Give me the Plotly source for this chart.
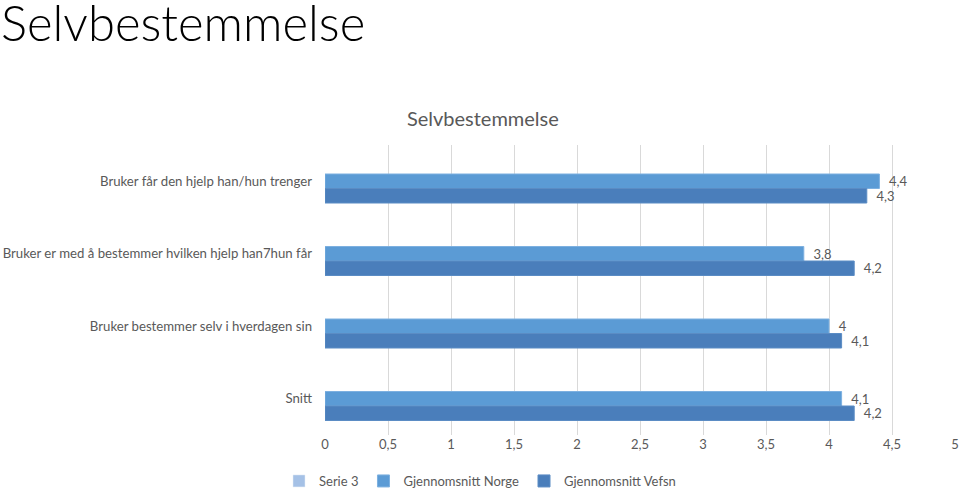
import plotly.graph_objects as go

categories = [
    "Bruker får den hjelp han/hun trenger",
    "Bruker er med å bestemmer hvilken hjelp han7hun får",
    "Bruker bestemmer selv i hverdagen sin",
    "Snitt",
]
serie3 = [None, None, None, None]
norge = [4.4, 3.8, 4.0, 4.1]
vefsn = [4.3, 4.2, 4.1, 4.2]
tick_vals = [0, 0.5, 1, 1.5, 2, 2.5, 3, 3.5, 4, 4.5, 5]
tick_text = ["0", "0,5", "1", "1,5", "2", "2,5", "3", "3,5", "4", "4,5", "5"]


def fmt(v):
    return "\u00a0\u00a0" + ("%g" % v).replace(".", ",")


FONT = "Lato"
GREY = "#595959"

fig = go.Figure()
fig.add_trace(go.Bar(
    y=categories, x=serie3, orientation="h", name="Serie 3",
    marker=dict(color="#A5C1E6"), showlegend=True,
))
fig.add_trace(go.Bar(
    y=categories, x=norge, orientation="h", name="Gjennomsnitt Norge",
    marker=dict(color="#5B9BD5", line=dict(color="#7DB0E0", width=1)),
    text=[fmt(v) for v in norge], textposition="outside", constraintext="none",
    textfont=dict(family=FONT, size=13, color=GREY), cliponaxis=False,
))
fig.add_trace(go.Bar(
    y=categories, x=vefsn, orientation="h", name="Gjennomsnitt Vefsn",
    marker=dict(color="#4A7EBB", line=dict(color="#5B8CC4", width=1)),
    text=[fmt(v) for v in vefsn], textposition="outside", constraintext="none",
    textfont=dict(family=FONT, size=13, color=GREY), cliponaxis=False,
))

fig.update_layout(
    width=960, height=489,
    margin=dict(l=325, r=5, t=145, b=54),
    paper_bgcolor="white", plot_bgcolor="white",
    barmode="group", bargap=0.4, bargroupgap=0,
    font=dict(family=FONT, size=13, color=GREY),
    title=dict(text="Selvbestemmelse", xref="container", x=0.503, xanchor="center",
               yref="container", y=1 - 119 / 489, yanchor="middle",
               font=dict(family=FONT, size=20, color=GREY)),
    xaxis=dict(range=[0, 5], tickvals=tick_vals, ticktext=tick_text,
               showgrid=True, gridcolor="#D9D9D9", gridwidth=1,
               zeroline=False, showline=False, ticks="", automargin=False,
               tickfont=dict(family=FONT, size=13, color=GREY)),
    yaxis=dict(autorange="reversed", showgrid=False, showline=False, ticks="",
               ticklabelstandoff=12, automargin=False,
               tickfont=dict(family=FONT, size=13.2, color=GREY)),
    legend=dict(orientation="h", xref="container", x=0.5, xanchor="center",
                yref="container", y=1 - 481 / 489, yanchor="middle",
                font=dict(family=FONT, size=13, color=GREY),
                itemwidth=30, traceorder="normal"),
    annotations=[dict(
        text="Selvbestemmelse", xref="paper", yref="paper",
        x=(-1 - 325) / 630, y=(435 - 22) / 290, xanchor="left", yanchor="middle",
        showarrow=False, font=dict(family=FONT, size=49, color="#000000", weight=300),
    )],
)

fig.write_html("out.html")
